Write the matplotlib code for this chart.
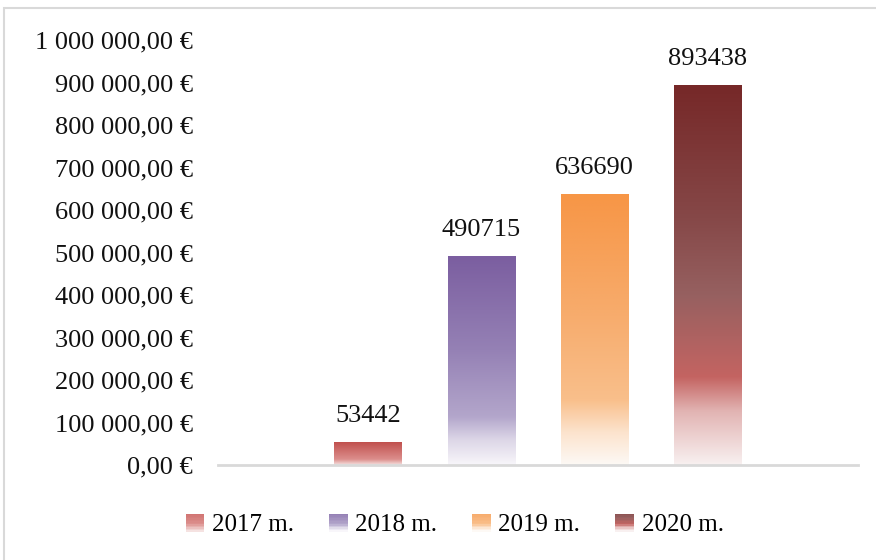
import numpy as np
import matplotlib
matplotlib.use("Agg")
import matplotlib.pyplot as plt
from matplotlib.colors import LinearSegmentedColormap
from matplotlib.patches import Rectangle
from matplotlib.legend_handler import HandlerBase

plt.rcParams['font.family'] = ['Liberation Serif', 'DejaVu Serif']

years = ['2017 m.', '2018 m.', '2019 m.', '2020 m.']
values = [53442, 490715, 636690, 893438]
ticks = [0, 100000, 200000, 300000, 400000, 500000, 600000, 700000, 800000, 900000, 1000000]

# gradient stops per series: (position from top of bar, colour)
stops = [
    [(0.0, '#C0504D'), (0.75, '#DC8E8C'), (1.0, '#F5E2E1')],
    [(0.0, '#7B5EA0'), (0.45, '#9581B5'), (0.77, '#B3A6CB'), (0.88, '#DCD6E7'), (1.0, '#F8F6FA')],
    [(0.0, '#F79646'), (0.45, '#F7AC6D'), (0.76, '#F9BF8B'), (0.88, '#FCE3CD'), (1.0, '#FDF9F5')],
    [(0.0, '#762828'), (0.35, '#864848'), (0.55, '#966060'), (0.77, '#C46462'), (0.86, '#E2B4B3'), (1.0, '#F8F0F0')],
]

fig = plt.figure(figsize=(8.76, 5.6), dpi=100)
ax = fig.add_axes([218 / 876, 1 - 465 / 560, 640 / 876, 425 / 560])

x = np.arange(len(values))
bars = ax.bar(x, values, width=0.6, color='none', edgecolor='none')

grad = np.linspace(0, 1, 256).reshape(-1, 1)
cmaps = []
for i, (b, st) in enumerate(zip(bars, stops)):
    cmap = LinearSegmentedColormap.from_list('g%d' % i, st)
    cmaps.append(cmap)
    x0, w, h = b.get_x(), b.get_width(), b.get_height()
    im = ax.imshow(grad, cmap=cmap, aspect='auto', origin='upper',
                   extent=(x0, x0 + w, 0, h), interpolation='bilinear', zorder=2)
    im.set_clip_path(b)
    ax.text(b.get_x() + w / 2, h + 37000, str(values[i]), ha='center', va='bottom',
            fontsize=19, color='#111111')

ax.set_xlim(-1.33, 4.33)
ax.set_ylim(0, 1000000)
ax.set_yticks(ticks)
ax.set_yticklabels(['{:,.2f} €'.format(t).replace(',', ' ').replace('.', ',') for t in ticks])
ax.tick_params(axis='y', length=0, pad=18, labelsize=19, labelcolor='#111111')
ax.set_xticks([])
for s in ['left', 'right', 'top']:
    ax.spines[s].set_visible(False)
ax.spines['bottom'].set_color('#D9D9D9')
ax.spines['bottom'].set_linewidth(2)


class GradientHandler(HandlerBase):
    def __init__(self, cmap):
        super().__init__()
        self.cmap = cmap

    def create_artists(self, legend, orig_handle, xdescent, ydescent, width, height, fontsize, trans):
        n = 12
        arts = []
        for k in range(n):
            c = self.cmap(0.45 + 0.55 * k / (n - 1))
            arts.append(Rectangle((-xdescent, -ydescent + height * (1 - (k + 1) / n)), width, height / n,
                                  facecolor=c, edgecolor='none', transform=trans))
        return arts


handles = [Rectangle((0, 0), 1, 1) for _ in years]
fig.legend(handles, years, loc='center', bbox_to_anchor=(0.519, 1 - 525 / 560), ncol=4,
           frameon=False, fontsize=18, handlelength=0.75, handleheight=0.75, handletextpad=0.3,
           columnspacing=1.4,
           handler_map={h: GradientHandler(c) for h, c in zip(handles, cmaps)})

fig.patches.append(Rectangle((4 / 876, -0.05), 1.2, 1 - 8 / 560 + 0.05, transform=fig.transFigure,
                             fill=False, edgecolor='#D9D9D9', linewidth=1.5))

fig.savefig('out.png', dpi=100)
